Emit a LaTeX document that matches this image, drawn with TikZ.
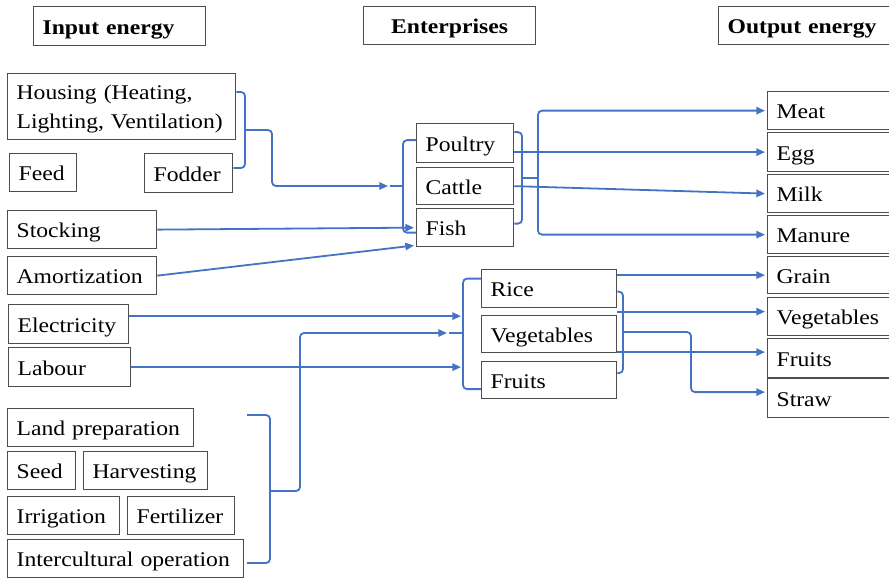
\documentclass[tikz,border=0pt]{standalone}
\usepackage{fontspec}
\setmainfont{Liberation Serif}[FakeStretch=1.13]
\usetikzlibrary{arrows.meta,calc}
\definecolor{flowblue}{HTML}{4472C4}
\definecolor{boxgray}{HTML}{4D4D4D}

\tikzset{
  labelbox/.style={draw=boxgray, line width=0.95pt, fill=white, rectangle,
    anchor=north west, inner xsep=6.75pt, inner ysep=0pt, align=left,
    font=\fontsize{15.7pt}{21.75pt}\selectfont},
  oneline/.style={text height=14.8pt, text depth=2.3pt},
  twoline/.style={text height=14.8pt},
  heading/.style={oneline, font=\fontsize{15.7pt}{21.75pt}\selectfont\bfseries},
  flowline/.style={draw=flowblue, line width=1.35pt, rounded corners=3pt},
  flowarrow/.style={flowline, -{Triangle[length=6.5pt,width=5.5pt]}, shorten >=1.5pt},
}

% \labelnode[style]{name}{left}{top}{right}{bottom}{text}, coordinates in px
\newcommand\labelnode[7][oneline]{%
  \pgfmathsetmacro\lnw{(#5-#3)*0.75}%
  \pgfmathsetmacro\lnh{(#6-#4)*0.75}%
  \pgfmathsetmacro\lntw{(#5-#3-18)*0.75}%
  \node[labelbox, #1, minimum width=\lnw pt, minimum height=\lnh pt,
        text width=\lntw pt] (#2) at (#3,#4) {\mbox{#7}};}

\begin{document}
\begin{tikzpicture}[x=0.75pt, y=-0.75pt]
\useasboundingbox (0,0) rectangle (889,578);
\clip (0,0) rectangle (889,578);

% column headings
\labelnode[heading]{hin}{33}{6}{205}{45}{Input energy}
\labelnode[heading, align=center]{hent}{363}{6}{535}{44}{Enterprises}
\labelnode[heading]{hout}{718}{6}{905}{44}{Output energy}

% inputs
\pgfmathsetmacro\lnw{(235-7)*0.75}
\pgfmathsetmacro\lnh{(139-73)*0.75}
\pgfmathsetmacro\lntw{(235-7-18)*0.75}
\node[labelbox, twoline, minimum width=\lnw pt, minimum height=\lnh pt,
      text width=\lntw pt] (housing) at (7,73)
      {\mbox{Housing (Heating,}\\\mbox{Lighting, Ventilation)}};
\labelnode{feed}{9}{153}{76}{191}{Feed}
\labelnode{fodder}{144}{153}{232}{192}{Fodder}
\labelnode{stocking}{7}{210}{156}{248}{Stocking}
\labelnode{amort}{7}{256}{156}{294}{Amortization}
\labelnode{elec}{8}{304}{128}{343}{Electricity}
\labelnode{labour}{8}{347}{130}{386}{Labour}
\labelnode{land}{7}{408}{193}{446}{Land preparation}
\labelnode{seed}{7}{451}{75}{489}{Seed}
\labelnode{harvest}{83}{451}{207}{489}{Harvesting}
\labelnode{irrig}{7}{496}{119}{534}{Irrigation}
\labelnode{fert}{127}{496}{234}{534}{Fertilizer}
\labelnode{intercult}{7}{539}{243}{577}{Intercultural operation}

% enterprises
\labelnode{poultry}{416}{123}{513}{162}{Poultry}
\labelnode{cattle}{416}{167}{513}{204}{Cattle}
\labelnode{fish}{416}{208}{513}{246}{Fish}
\labelnode{rice}{481}{269}{616}{307}{Rice}
\labelnode{vegc}{481}{315}{616}{352}{Vegetables}
\labelnode{fruitc}{481}{361}{616}{398}{Fruits}

% outputs
\labelnode{meat}{767}{91}{905}{129}{Meat}
\labelnode{egg}{767}{132}{905}{171}{Egg}
\labelnode{milk}{767}{174}{905}{212}{Milk}
\labelnode{manure}{767}{215}{905}{253}{Manure}
\labelnode{grain}{767}{256}{905}{293}{Grain}
\labelnode{vego}{767}{297}{905}{335}{Vegetables}
\labelnode{fruito}{767}{338}{905}{377}{Fruits}
\labelnode{straw}{767}{378}{905}{417}{Straw}

% junction points
\coordinate (hbtop) at (245,92);
\coordinate (hbmid) at (245,130);
\coordinate (hbbot) at (245,168);
\coordinate (hbturn) at (272,130);
\coordinate (lsin) at (390,186);
\coordinate (lsl) at (403,186);
\coordinate (lsr) at (522,178);
\coordinate (lsout) at (538,178);
\coordinate (csin) at (449,333);
\coordinate (csl) at (463,333);
\coordinate (csr) at (623,332);
\coordinate (strawturn) at (691,332);
\coordinate (lbtop) at (247,415);
\coordinate (lbtip) at (270,491);
\coordinate (lbbot) at (247,563);
\coordinate (lbturn) at (300,491);
\path ($(elec.east)+(0,-8)$) coordinate (e1);
\path ($(straw.west)+(0,-6)$) coordinate (s1);
\path ($(vego.west)+(0,-5)$) coordinate (v1);
\path ($(fruito.west)+(0,-6)$) coordinate (f1);

% livestock inputs
\draw[flowline] (housing.east |- hbtop) -- (hbtop) -- (hbbot) -- (fodder.east |- hbbot);
\draw[flowarrow] (hbmid) -- (hbturn) |- (lsin);
\draw[flowline] (lsin) -- (lsl);
\draw[flowline] ($(poultry.west)+(0,-3)$) -| (lsl) |- ($(fish.west)+(0,5)$);
\draw[flowarrow] (stocking.east) -- (fish.west);
\draw[flowarrow] (amort.east) -- ($(fish.south west)+(0,-2)$);

% livestock outputs
\draw[flowline] ($(poultry.east)+(0,-11)$) -| (lsr) |- ($(fish.east)+(0,-4)$);
\draw[flowline] (lsr) -- (lsout);
\draw[flowarrow] (lsout) |- (meat.west);
\draw[flowarrow] (lsout) |- (manure.west);
\draw[flowarrow] (poultry.east |- egg.west) -- (egg.west);
\draw[flowarrow] (cattle.east) -- (milk.west);

% crop inputs
\draw[flowline] ($(rice.west)+(0,-10)$) -| (csl) |- ($(fruitc.west)+(0,9)$);
\draw[flowline] (csin) -- (csl);
\draw[flowarrow] (e1) -- (e1 -| csl);
\draw[flowarrow] (labour.east) -- (labour.east -| csl);
\draw[flowline] (lbtop) -| (lbtip) |- (lbbot);
\draw[flowarrow] (lbtip) -- (lbturn) |- (csin);

% crop outputs
\draw[flowline] ($(rice.east)+(0,3)$) -| (csr) |- ($(fruitc.east)+(0,-7)$);
\draw[flowarrow] (csr) -- (strawturn) |- (s1);
\draw[flowarrow] (rice.east |- grain.west) -- (grain.west);
\draw[flowarrow] (rice.east |- v1) -- (v1);
\draw[flowarrow] (rice.east |- f1) -- (f1);
\end{tikzpicture}
\end{document}
